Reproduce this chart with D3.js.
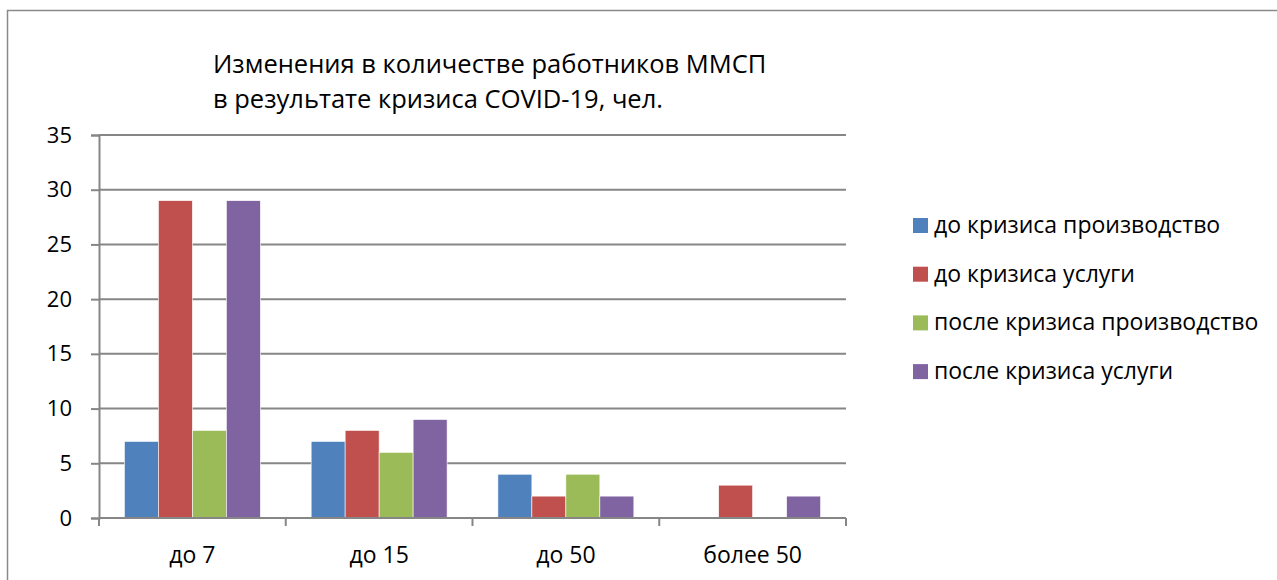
<!DOCTYPE html>
<html>
<head>
<meta charset="utf-8">
<script src="https://cdn.jsdelivr.net/npm/d3@7"></script>
<style>
  body { margin: 0; background: #fff; }
  text { font-family: "Open Sans", sans-serif; fill: #000; }
</style>
</head>
<body>
<div id="chart"></div>
<script>
const categories = ["до 7", "до 15", "до 50", "более 50"];
const seriesNames = [
  "до кризиса производство",
  "до кризиса услуги",
  "после кризиса производство",
  "после кризиса услуги",
];
const beforeProduction = [7, 7, 4, 0];
const beforeServices = [29, 8, 2, 3];
const afterProduction = [8, 6, 4, 0];
const afterServices = [29, 9, 2, 2];
const yTicks = [0, 5, 10, 15, 20, 25, 30, 35];
const titleLines = [
  "Изменения в количестве работников ММСП",
  "в результате кризиса COVID-19, чел.",
];

const colors = ["#4F81BD", "#C0504D", "#9BBB59", "#8064A2"];
const seriesValues = [beforeProduction, beforeServices, afterProduction, afterServices];

const width = 1277;
const height = 580;
const plotLeft = 99;
const plotRight = 846;
const plotTop = 135;
const plotBottom = 518;
const gridColor = "#868686";

const svg = d3
  .select("#chart")
  .append("svg")
  .attr("width", width)
  .attr("height", height);

// outer frame, runs off the right and bottom edge like the original
svg
  .append("rect")
  .attr("x", 7.5)
  .attr("y", 10.5)
  .attr("width", 1300)
  .attr("height", 620)
  .attr("fill", "none")
  .attr("stroke", "#8a8a8a")
  .attr("stroke-width", 1.5);

const x0 = d3
  .scaleBand()
  .domain(categories)
  .range([plotLeft, plotRight])
  .paddingInner(0.272)
  .paddingOuter(0.136);

const x1 = d3
  .scaleBand()
  .domain(seriesNames)
  .range([0, x0.bandwidth()]);

const y = d3.scaleLinear().domain([0, 35]).range([plotBottom, plotTop]);

// gridlines + y axis
const yAxis = svg
  .append("g")
  .attr("transform", `translate(${plotLeft},0)`)
  .call(
    d3
      .axisLeft(y)
      .tickValues(yTicks)
      .tickSize(8)
      .tickPadding(19)
  );
yAxis.select(".domain").attr("stroke", gridColor).attr("stroke-width", 2);
yAxis.selectAll(".tick line").attr("stroke", gridColor).attr("stroke-width", 2);
yAxis.selectAll("text").attr("font-size", 22).attr("font-family", "Open Sans");

svg
  .append("g")
  .selectAll("line")
  .data(yTicks.filter((d) => d > 0))
  .enter()
  .append("line")
  .attr("x1", plotLeft)
  .attr("x2", plotRight)
  .attr("y1", (d) => y(d))
  .attr("y2", (d) => y(d))
  .attr("stroke", gridColor)
  .attr("stroke-width", 2);

// bars
const rows = categories.map((c, i) => ({
  category: c,
  values: seriesNames.map((s, k) => ({ series: s, value: seriesValues[k][i], color: colors[k] })),
}));

svg
  .append("g")
  .selectAll("g")
  .data(rows)
  .enter()
  .append("g")
  .attr("transform", (d) => `translate(${x0(d.category)},0)`)
  .selectAll("rect")
  .data((d) => d.values.filter((v) => v.value > 0))
  .enter()
  .append("rect")
  .attr("x", (d) => x1(d.series))
  .attr("width", x1.bandwidth())
  .attr("y", (d) => y(d.value))
  .attr("height", (d) => y(0) - y(d.value))
  .attr("fill", (d) => d.color)
  .attr("stroke", "#fff")
  .attr("stroke-width", 0.6);

// x axis: ticks sit between categories
const step = x0.step();
const boundaries = d3.range(categories.length + 1).map((i) => plotLeft + i * step);
const xAxis = svg.append("g");
xAxis
  .append("line")
  .attr("x1", plotLeft)
  .attr("x2", plotRight)
  .attr("y1", plotBottom)
  .attr("y2", plotBottom)
  .attr("stroke", gridColor)
  .attr("stroke-width", 2);
xAxis
  .selectAll("line.tick")
  .data(boundaries)
  .enter()
  .append("line")
  .attr("class", "tick")
  .attr("x1", (d) => d)
  .attr("x2", (d) => d)
  .attr("y1", plotBottom)
  .attr("y2", plotBottom + 8)
  .attr("stroke", gridColor)
  .attr("stroke-width", 2);
xAxis
  .selectAll("text")
  .data(categories)
  .enter()
  .append("text")
  .text((d) => d)
  .attr("x", (d) => x0(d) + x0.bandwidth() / 2)
  .attr("y", 563)
  .attr("text-anchor", "middle")
  .attr("font-size", 23);

// title
svg
  .append("g")
  .selectAll("text")
  .data(titleLines)
  .enter()
  .append("text")
  .text((d) => d)
  .attr("x", 213)
  .attr("y", (d, i) => 73 + i * 35)
  .attr("font-size", 25.5);

// legend
const legend = svg
  .append("g")
  .selectAll("g")
  .data(seriesNames)
  .enter()
  .append("g")
  .attr("transform", (d, i) => `translate(913,${225 + i * 48.7})`);
legend
  .append("rect")
  .attr("x", 0)
  .attr("y", -7)
  .attr("width", 15)
  .attr("height", 15)
  .attr("fill", (d, i) => colors[i]);
legend
  .append("text")
  .text((d) => d)
  .attr("x", 21)
  .attr("y", 8)
  .attr("font-size", 23);
</script>
</body>
</html>
